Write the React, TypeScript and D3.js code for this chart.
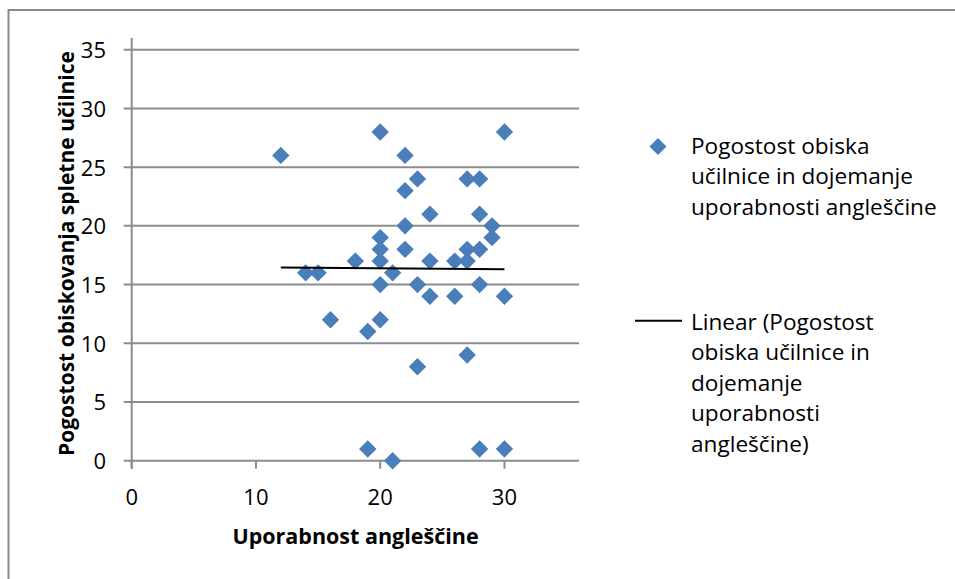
import React from "react";
import * as d3 from "d3";

const xValues = [12, 14, 15, 16, 18, 19, 19, 20, 20, 20, 20, 20, 20, 21, 21, 22, 22, 22, 22, 23, 23, 23, 24, 24, 24, 26, 26, 27, 27, 27, 27, 28, 28, 28, 28, 28, 29, 29, 30, 30, 30];
const yValues = [26, 16, 16, 12, 17, 11, 1, 28, 19, 18, 17, 15, 12, 16, 0, 26, 23, 20, 18, 24, 15, 8, 21, 17, 14, 17, 14, 24, 18, 17, 9, 24, 21, 18, 15, 1, 20, 19, 28, 14, 1];
const trendX = [12, 30];
const trendY = [16.45, 16.31];
const xTicks = [0, 10, 20, 30];
const yTicks = [0, 5, 10, 15, 20, 25, 30, 35];
const xTitle = "Uporabnost angleščine";
const yTitle = "Pogostost obiskovanja  spletne učilnice";
const legendSeries = ["Pogostost obiska", "učilnice in dojemanje", "uporabnosti angleščine"];
const legendTrend = ["Linear (Pogostost", "obiska učilnice in", "dojemanje", "uporabnosti", "angleščine)"];

const W = 955;
const H = 579;
const FONT = "'Open Sans', 'Liberation Sans', sans-serif";
const BLUE = "#4a7ebb";
const GRID = "#8c8c8c";

export default function App() {
  const x = d3.scaleLinear().domain([0, 36]).range([131.7, 579]);
  const y = d3.scaleLinear().domain([0, 36]).range([460.7, 38]);
  const sqDiamond = (s: number) => `M0,${-s}L${s},0L0,${s}L${-s},0Z`;
  const line = d3.line<[number, number]>().x((d) => x(d[0])).y((d) => y(d[1]));
  const trend: [number, number][] = trendX.map((v, i) => [v, trendY[i]]);
  const x0 = x(0);
  const y0 = y(0);

  return (
    <svg width={W} height={H} style={{ position: "absolute", left: 0, top: 0, background: "#fff" }} fontFamily={FONT}>
      <rect x={8.5} y={10} width={W + 10} height={H + 10} fill="#fff" stroke="#8a8a8a" strokeWidth={2} />
      {yTicks.map((t) => (
        <line key={"g" + t} x1={x0 - 8} x2={x(36)} y1={y(t)} y2={y(t)} stroke={GRID} strokeWidth={2} />
      ))}
      <line x1={x0} x2={x0} y1={y(36)} y2={y0 + 8} stroke={GRID} strokeWidth={2} />
      {xTicks.map((t) => (
        <line key={"xt" + t} x1={x(t)} x2={x(t)} y1={y0} y2={y0 + 8} stroke={GRID} strokeWidth={2} />
      ))}
      {yTicks.map((t) => (
        <text key={"yl" + t} x={106} y={y(t) + 8.5} textAnchor="end" fontSize={22} fill="#000">
          {t}
        </text>
      ))}
      {xTicks.map((t) => (
        <text key={"xl" + t} x={x(t)} y={504.5} textAnchor="middle" fontSize={22} fill="#000">
          {t}
        </text>
      ))}
      {xValues.map((v, i) => (
        <path key={"p" + i} d={sqDiamond(8.7)} transform={`translate(${x(v)},${y(yValues[i])})`} fill={BLUE} />
      ))}
      <path d={line(trend) || ""} fill="none" stroke="#000" strokeWidth={2} />
      <text x={355.5} y={543.5} textAnchor="middle" fontSize={21.5} fontWeight="bold" fill="#000">
        {xTitle}
      </text>
      <text transform={`translate(74,253.5) rotate(-90)`} textAnchor="middle" fontSize={21} fontWeight="bold" fill="#000">
        {yTitle}
      </text>
      <path d={sqDiamond(8.5)} transform="translate(658,146.5)" fill={BLUE} />
      {legendSeries.map((s, i) => (
        <text key={"ls" + i} x={691} y={153.5 + i * 30.6} fontSize={22.6} fill="#000">
          {s}
        </text>
      ))}
      <line x1={635} x2={682} y1={320.7} y2={320.7} stroke="#000" strokeWidth={2} />
      {legendTrend.map((s, i) => (
        <text key={"lt" + i} x={691} y={329.5 + i * 30.65} fontSize={22.6} fill="#000">
          {s}
        </text>
      ))}
    </svg>
  );
}
